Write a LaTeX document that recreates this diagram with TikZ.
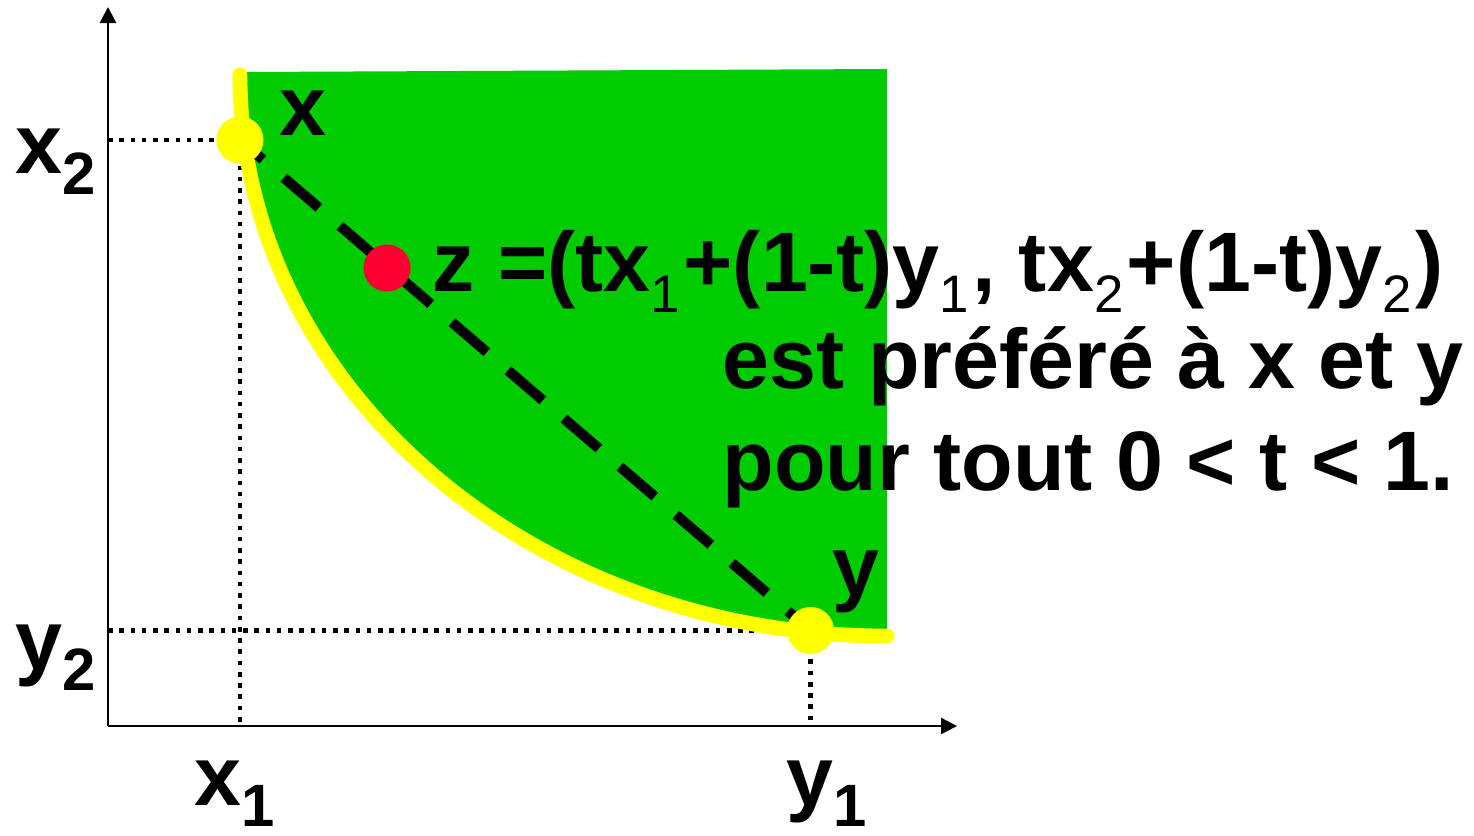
\documentclass[tikz,border=0pt]{standalone}
\usepackage{fontspec}
\setmainfont{Liberation Sans}
\usetikzlibrary{arrows.meta, backgrounds}
\definecolor{regiongreen}{RGB}{0,204,0}
\definecolor{curveyellow}{RGB}{255,255,0}
\definecolor{zred}{RGB}{255,0,51}
\newcommand\lowbig[1]{\raisebox{-0.26em}{\fontsize{17}{17}\selectfont #1}}
\newcommand\lowsmall[1]{\raisebox{-0.25em}{\fontsize{15}{15}\selectfont\mdseries #1}\kern1pt}
\tikzset{
  axis/.style  = {line width=0.7pt, -{Triangle[length=0.16cm, width=0.16cm]}},
  guide/.style = {line width=1.3pt, dash pattern=on 1.3pt off 1.9pt},
  curve/.style = {line width=4.2pt, draw=curveyellow, line cap=round},
  chord/.style = {line width=2.9pt, dash pattern=on 13.1pt off 7.9pt, shorten <=-0.16cm, shorten >=-0.16cm},
  pt/.style    = {circle, minimum size=0.47cm, inner sep=0pt, fill=curveyellow},
  lbl/.style   = {font=\fontsize{24}{29}\selectfont\bfseries, inner sep=0pt, anchor=base west}
}

\begin{document}
\begin{tikzpicture}[x=0.01cm, y=0.01cm]
\useasboundingbox (0,0) rectangle (1474,835);
%% ===== axes =====
\coordinate (O) at (108,109);
\coordinate (top) at (108,828);
\coordinate (right) at (957,109);
\draw[axis] (O) -- (top);
\draw[axis] (O) -- (right);
%% ===== points =====
\node[pt] (px) at (240,695) {};
\node[pt] (py) at (810.5,204.5) {};
\node[pt, fill=zred] (pz) at (387,567) {};
%% ===== region, guides, curve, chord =====
\begin{scope}[on background layer]
  \fill[regiongreen] (240,760) arc[start angle=180, end angle=270, x radius=647, y radius=561]
    -- (887,766) -- (245,763) -- cycle;
  \draw[guide] (O |- px) -- (px.center) -- (px |- O);
  \draw[guide] (O |- py) -- (py.center) -- (py |- O);
  \draw[curve] (240,760) arc[start angle=180, end angle=270, x radius=647, y radius=561];
  \draw[chord] (px.center) -- (py.center);
\end{scope}
%% ===== labels =====
\node[lbl] (lx2) at (15,662) {x\lowbig{2}};
\node[lbl] (ly2) at (15,166) {y\lowbig{2}};
\node[lbl] (lx1) at (194,30) {x\lowbig{1}};
\node[lbl] (ly1) at (786,30) {y\lowbig{1}};
\node[lbl] (lx) at (279,700) {x};
\node[lbl] (ly) at (832,240) {y};
% statement
\node[lbl] (eq1) at (432,544) {z =(tx\lowsmall{1}+(1-t)y\lowsmall{1}, tx\lowsmall{2}+(1-t)y\lowsmall{2})};
\node[lbl] (eq2) at (722,447) {est préféré à x et y};
\node[lbl] (eq3) at (722,345) {pour tout 0 < t < 1.};
\end{tikzpicture}
\end{document}
